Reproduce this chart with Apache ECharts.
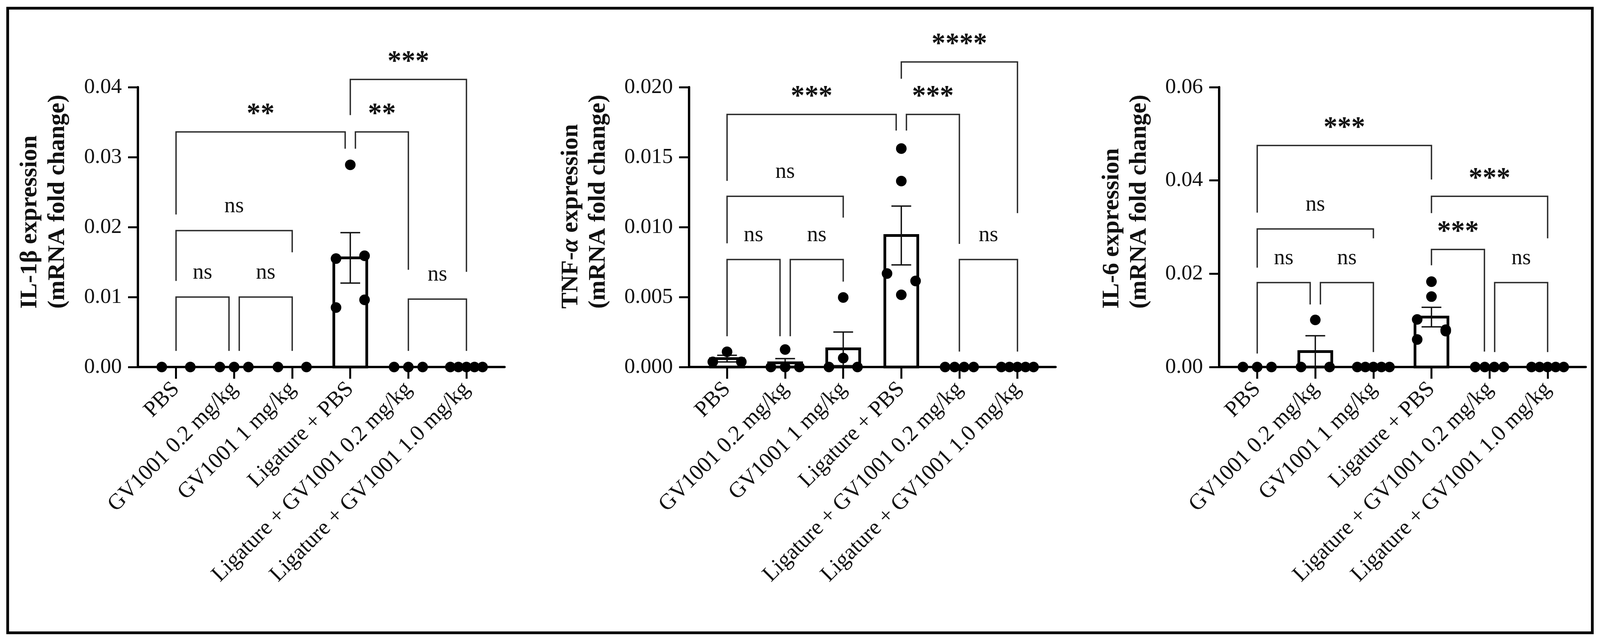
<!DOCTYPE html>
<html>
<head>
<meta charset="utf-8">
<script src="https://cdn.jsdelivr.net/npm/echarts@6/dist/echarts.min.js"></script>
<style>
  html, body { margin: 0; padding: 0; background: #ffffff; overflow: hidden; }
  #chart { width: 100vw; height: 100vh; }
</style>
</head>
<body>
<div id="chart"></div>
<script>
// ---------------- DATA ----------------
const categories = ['PBS', 'GV1001 0.2 mg/kg', 'GV1001 1 mg/kg', 'Ligature + PBS',
  'Ligature + GV1001 0.2 mg/kg', 'Ligature + GV1001 1.0 mg/kg'];

// IL-1β
const il1bPoints = [[0, 0], [0, 0, 0], [0, 0], [0.0289, 0.0155, 0.0159, 0.0085, 0.0096], [0, 0, 0], [0, 0, 0, 0, 0]];
const il1bMean = [0, 0, 0, 0.0156, 0, 0];
const il1bSem = [0, 0, 0, 0.0036, 0, 0];
const il1bTicks = ['0.00', '0.01', '0.02', '0.03', '0.04'];
// [from, to, top, leg end at from, leg end at to]
const il1bBrackets = [[0, 1, 0.0100, 0.0023, 0.0023], [1, 2, 0.0100, 0.0023, 0.0023], [0, 2, 0.0195, 0.0123, 0.0164],
  [0, 3, 0.0336, 0.0218, 0.0312], [3, 4, 0.0336, 0.0312, 0.0139], [3, 5, 0.0411, 0.0360, 0.0136], [4, 5, 0.0097, 0.0023, 0.0023]];
const il1bLabels = ['ns', 'ns', 'ns', '**', '**', '***', 'ns'];

// TNF-α
const tnfPoints = [[0.00037, 0.00109, 0.00037], [0.00125, 0, 0, 0], [0.00497, 0, 0.00064, 0],
  [0.01561, 0.01329, 0.00668, 0.00615, 0.00516], [0, 0, 0, 0], [0, 0, 0, 0, 0]];
const tnfMean = [0.0006, 0.0003, 0.0013, 0.0094, 0, 0];
const tnfSem = [0.00024, 0.0003, 0.0012, 0.0021, 0, 0];
const tnfTicks = ['0.000', '0.005', '0.010', '0.015', '0.020'];
const tnfBrackets = [[0, 1, 0.00768, 0.0022, 0.0022], [1, 2, 0.00768, 0.0022, 0.0061], [0, 2, 0.0122, 0.00884, 0.01068],
  [0, 3, 0.01805, 0.0133, 0.0169], [3, 4, 0.01805, 0.0169, 0.0088], [3, 5, 0.0218, 0.0206, 0.0110], [4, 5, 0.00768, 0.0011, 0.0011]];
const tnfLabels = ['ns', 'ns', 'ns', '***', '***', '****', 'ns'];

// IL-6
const il6Points = [[0, 0, 0], [0.0101, 0, 0], [0, 0, 0, 0, 0], [0.0183, 0.0151, 0.0102, 0.0080, 0.0059, 0.0077],
  [0, 0, 0, 0], [0, 0, 0, 0, 0]];
const il6Mean = [0, 0.0033, 0, 0.0107, 0, 0];
const il6Sem = [0, 0.0034, 0, 0.0021, 0, 0];
const il6Ticks = ['0.00', '0.02', '0.04', '0.06'];
const il6Brackets = [[0, 1, 0.0181, 0.0029, 0.0134], [1, 2, 0.0181, 0.0134, 0.0032], [0, 2, 0.0296, 0.0213, 0.0276],
  [0, 3, 0.0475, 0.0331, 0.0402], [3, 5, 0.0366, 0.0330, 0.0276], [3, 4, 0.0252, 0.0218, 0.0033], [4, 5, 0.0181, 0.0032, 0.0032]];
const il6Labels = ['ns', 'ns', 'ns', '***', '***', '***', 'ns'];

// ---------------- LAYOUT (designed for 4373 x 1640, scaled to the actual viewport) ----------------
const VW = window.innerWidth || 4373, VH = window.innerHeight || 1640;
const SX = VW / 4373, SY = VH / 1640, SF = (SX + SY) / 2;
const FONT = '"Liberation Serif", "Times New Roman", serif';
const GRID_TOP = 223 * SY, GRID_H = 716 * SY, GRID_W = 1002 * SX;
const X_MIN = -0.656, X_MAX = 5.656;
const CAT_PX = GRID_W / (X_MAX - X_MIN);
const DOT = 28 * SF, DOT_GAP = 29 * SY;
const BAR_HALF = 45 * SX, CAP_HALF = 27 * SX, SHIFT_PX = 14 * SX;

const panels = [
  { left: 377, nameGap: 182, name: '{b|IL-1β expression}\n{b|(mRNA fold change)}',
    points: il1bPoints, mean: il1bMean, sem: il1bSem, ticks: il1bTicks, max: 0.04, interval: 0.01,
    brackets: il1bBrackets, labels: il1bLabels },
  { left: 1883, nameGap: 210, name: '{b|TNF-}{bi|α}{b| expression}\n{b|(mRNA fold change)}',
    points: tnfPoints, mean: tnfMean, sem: tnfSem, ticks: tnfTicks, max: 0.02, interval: 0.005,
    brackets: tnfBrackets, labels: tnfLabels },
  { left: 3332, nameGap: 180, name: '{b|IL-6 expression}\n{b|(mRNA fold change)}',
    points: il6Points, mean: il6Mean, sem: il6Sem, ticks: il6Ticks, max: 0.06, interval: 0.02,
    brackets: il6Brackets, labels: il6Labels }
];

// spread points of similar value horizontally (Prism-like scatter)
function layoutDots(groups, yMax) {
  const thr = yMax * DOT_GAP / GRID_H;
  const out = [];
  groups.forEach((vals, k) => {
    const rows = [];
    vals.forEach(v => {
      const last = rows[rows.length - 1];
      if (last && Math.abs(last[0] - v) < thr) last.push(v); else rows.push([v]);
    });
    rows.forEach(row => {
      const n = row.length;
      const w = (n <= 1 ? 0 : (n <= 4 ? 78 : 88)) * SX;
      row.forEach((v, j) => {
        const off = n <= 1 ? 0 : -w / 2 + j * w / (n - 1);
        out.push([k + off / CAT_PX, v]);
      });
    });
  });
  return out;
}

// nudge bracket legs apart where one bracket ends and another starts on the same group
function bracketShifts(br) {
  const s = br.map(() => [0, 0]);
  br.forEach((a, i) => br.forEach((b, j) => {
    if (i !== j && a[1] === b[0]) {
      const aLo = Math.min(a[4], a[2]), aHi = Math.max(a[4], a[2]);
      const bLo = Math.min(b[3], b[2]), bHi = Math.max(b[3], b[2]);
      if (aLo < bHi && bLo < aHi) { s[i][1] = -SHIFT_PX; s[j][0] = SHIFT_PX; }
    }
  }));
  return s;
}

const grids = [], xAxes = [], yAxes = [], series = [];
const nameRich = {
  b: { fontFamily: FONT, fontWeight: 'bold', fontSize: 62 * SY, lineHeight: 75 * SX, color: '#111', align: 'left' },
  bi: { fontFamily: FONT, fontWeight: 'bold', fontStyle: 'italic', fontSize: 62 * SY, lineHeight: 75 * SX, color: '#111', align: 'left' }
};

panels.forEach((p, i) => {
  grids.push({ left: p.left * SX, top: GRID_TOP, width: GRID_W, height: GRID_H, containLabel: false, outerBoundsMode: 'none' });
  xAxes.push({
    gridIndex: i, type: 'value', min: X_MIN, max: X_MAX,
    axisLine: { show: true, onZero: false, lineStyle: { color: '#000', width: 6 } },
    axisTick: { show: true, customValues: [0, 1, 2, 3, 4, 5], length: 30 * SY, lineStyle: { color: '#000', width: 5 } },
    axisLabel: { show: true, customValues: [0, 1, 2, 3, 4, 5], rotate: 45, margin: 48 * SY,
      formatter: v => categories[Math.round(v)], fontFamily: FONT, fontSize: 59 * SF, color: '#111' },
    splitLine: { show: false }
  });
  yAxes.push({
    gridIndex: i, type: 'value', min: 0, max: p.max, interval: p.interval,
    axisLine: { show: true, onZero: false, lineStyle: { color: '#000', width: 6 } },
    axisTick: { show: true, length: 27 * SX, lineStyle: { color: '#000', width: 5 } },
    axisLabel: { show: true, margin: 44 * SX, fontFamily: FONT, fontSize: 59 * SX, color: '#111',
      formatter: v => p.ticks[Math.round(v / p.interval)] },
    splitLine: { show: false },
    name: p.name, nameLocation: 'middle', nameRotate: 90, nameGap: p.nameGap * SX,
    nameTextStyle: { padding: [0, 0, 0, 130 * SY], rich: nameRich }
  });

  // bars: group means
  series.push({
    type: 'custom', xAxisIndex: i, yAxisIndex: i, z: 2, clip: false, silent: true,
    data: p.mean.map((m, k) => [k, m]),
    encode: { x: 0, y: 1 },
    renderItem: (params, api) => {
      const k = api.value(0), m = api.value(1);
      if (!(m > 0)) return null;
      const t = api.coord([k, m]), b = api.coord([k, 0]);
      return { type: 'rect', shape: { x: t[0] - BAR_HALF, y: t[1], width: 2 * BAR_HALF, height: b[1] - t[1] },
        style: { fill: '#fff', stroke: '#000', lineWidth: 7 } };
    }
  });
  // error bars: mean ± SEM
  series.push({
    type: 'custom', xAxisIndex: i, yAxisIndex: i, z: 3, clip: false, silent: true,
    data: p.mean.map((m, k) => [k, m, p.sem[k]]),
    encode: { x: 0, y: 1 },
    renderItem: (params, api) => {
      const k = api.value(0), m = api.value(1), s = api.value(2);
      if (!(s > 0)) return null;
      const hi = api.coord([k, m + s]), lo = api.coord([k, Math.max(0, m - s)]);
      const st = { stroke: '#111', lineWidth: 3.5 };
      return { type: 'group', children: [
        { type: 'line', shape: { x1: hi[0], y1: hi[1], x2: lo[0], y2: lo[1] }, style: st },
        { type: 'line', shape: { x1: hi[0] - CAP_HALF, y1: hi[1], x2: hi[0] + CAP_HALF, y2: hi[1] }, style: st },
        { type: 'line', shape: { x1: lo[0] - CAP_HALF, y1: lo[1], x2: lo[0] + CAP_HALF, y2: lo[1] }, style: st }
      ] };
    }
  });
  // individual animals
  series.push({
    type: 'scatter', xAxisIndex: i, yAxisIndex: i, z: 4, clip: false, silent: true,
    symbol: 'circle', symbolSize: DOT, itemStyle: { color: '#000', opacity: 1 },
    data: layoutDots(p.points, p.max)
  });
  // significance brackets
  const sh = bracketShifts(p.brackets);
  series.push({
    type: 'custom', xAxisIndex: i, yAxisIndex: i, z: 5, clip: false, silent: true,
    data: p.brackets,
    encode: { x: [0, 1], y: [2, 3, 4] },
    renderItem: (params, api) => {
      const j = params.dataIndex;
      const t1 = api.coord([api.value(0), api.value(2)]);
      const t2 = api.coord([api.value(1), api.value(2)]);
      const e1 = api.coord([api.value(0), api.value(3)]);
      const e2 = api.coord([api.value(1), api.value(4)]);
      const x1 = t1[0] + sh[j][0], x2 = t2[0] + sh[j][1];
      const label = p.labels[j];
      const star = label !== 'ns';
      return { type: 'group', children: [
        { type: 'polyline', shape: { points: [[x1, e1[1]], [x1, t1[1]], [x2, t1[1]], [x2, e2[1]]] },
          style: { stroke: '#2b2b2b', lineWidth: 3.5, fill: null } },
        { type: 'text', x: (x1 + x2) / 2, y: t1[1] - (star ? 44 : 62) * SY,
          style: { text: label, fill: '#111', fontFamily: FONT, fontSize: (star ? 76 : 60) * SX,
            fontWeight: star ? 'bold' : 'normal', align: 'center', verticalAlign: 'middle' } }
      ] };
    }
  });
});

const chart = echarts.init(document.getElementById('chart'), null, { renderer: 'canvas', width: VW, height: VH });
chart.setOption({
  backgroundColor: '#ffffff',
  animation: false,
  grid: grids,
  xAxis: xAxes,
  yAxis: yAxes,
  series: series,
  graphic: [{
    type: 'rect', z: 10, silent: true,
    shape: { x: 21 * SX, y: 21 * SY, width: 4331 * SX, height: 1598 * SY },
    style: { fill: null, stroke: '#000', lineWidth: 7 }
  }]
});
</script>
</body>
</html>
